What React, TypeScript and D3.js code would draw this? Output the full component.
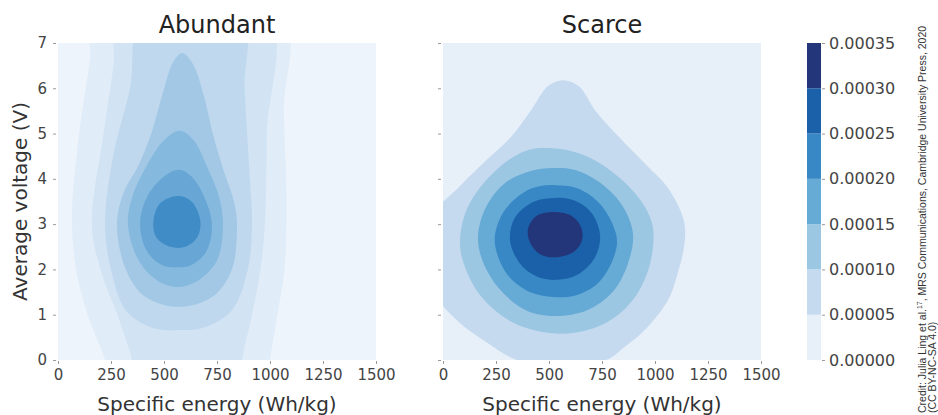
import { useRef, useEffect } from "react";
import * as d3 from "d3";

// tick values
const energyTicks = [0, 250, 500, 750, 1000, 1250, 1500];
const voltageTicks = [0, 1, 2, 3, 4, 5, 6, 7];
const densityTicks = [0, 0.00005, 0.0001, 0.00015, 0.0002, 0.00025, 0.0003, 0.00035];

const panelTitles = ["Abundant", "Scarce"];

// contour outlines, [energy Wh/kg, voltage V], outer -> inner
const abundantLevels: [number, number][][] = [
  [[175, 7.6], [1058, 7.6], [1065, 5.5], [1078, 3.5], [1068, 2], [1035, 1], [1000, 0], [990, -0.4], [240, -0.4], [222, 0], [140, 1], [85, 2], [66, 3.2], [100, 5], [150, 6.6]],
  [[292, 7.6], [990, 7.6], [985, 5], [976, 3], [955, 2], [915, 1], [868, 0], [860, -0.4], [355, -0.4], [349, 0], [280, 1], [200, 2], [160, 3], [215, 5], [262, 6.5]],
  [[401, 7.6], [868, 7.6], [880, 6], [905, 4], [915, 3], [895, 2], [820, 1.1], [690, 0.72], [566, 0.66], [440, 0.72], [320, 1.1], [250, 2], [222, 3], [260, 4.5], [340, 6]],
  [[585, 6.78], [635, 6.55], [690, 5.8], [730, 5], [780, 4.2], [830, 3.5], [844, 3], [820, 2], [730, 1.4], [566, 1.17], [410, 1.4], [320, 2], [278, 3], [310, 3.7], [380, 4.3], [440, 5], [495, 5.9], [540, 6.55]],
  [[575, 5.06], [640, 4.85], [700, 4.3], [760, 3.6], [778, 3], [750, 2.2], [660, 1.75], [566, 1.61], [470, 1.75], [380, 2.2], [330, 3], [350, 3.6], [420, 4.3], [500, 4.85]],
  [[570, 4.2], [630, 4.05], [690, 3.6], [726, 3], [700, 2.4], [630, 2.1], [566, 2.05], [490, 2.1], [420, 2.4], [387, 3], [420, 3.6], [500, 4.05]],
  [[566, 3.62], [630, 3.5], [672, 3.05], [655, 2.7], [600, 2.5], [530, 2.5], [465, 2.7], [450, 3.05], [480, 3.45]],
];

const scarceLevels: [number, number][][] = [
  [[566, 6.18], [640, 6.05], [720, 5.5], [835, 4.9], [960, 4.3], [1061, 3.8], [1135, 3.1], [1140, 2.6], [1100, 1.8], [1061, 1.32], [960, 0.7], [858, 0.29], [770, 0.0], [560, -0.12], [349, 0.0], [212, 0.37], [60, 0.9], [-40, 1.5], [-60, 2.5], [-30, 3.3], [71, 3.8], [190, 4.35], [316, 4.9], [420, 5.55], [495, 6.05]],
  [[490, 4.68], [600, 4.62], [720, 4.4], [850, 3.95], [950, 3.4], [991, 2.9], [975, 2.1], [900, 1.35], [780, 0.85], [620, 0.6], [470, 0.62], [320, 0.85], [180, 1.4], [100, 2.1], [80, 2.6], [110, 3.3], [200, 3.95], [320, 4.45], [410, 4.65]],
  [[520, 4.24], [620, 4.2], [730, 3.95], [840, 3.45], [896, 2.8], [870, 2.1], [800, 1.5], [680, 1.1], [530, 0.97], [390, 1.1], [270, 1.55], [190, 2.15], [165, 2.7], [200, 3.35], [290, 3.9], [410, 4.17]],
  [[530, 3.86], [630, 3.8], [730, 3.5], [800, 3.0], [821, 2.6], [790, 2.1], [720, 1.65], [620, 1.42], [520, 1.39], [410, 1.5], [310, 1.85], [255, 2.35], [245, 2.75], [290, 3.3], [380, 3.7], [460, 3.84]],
  [[530, 3.58], [620, 3.52], [700, 3.25], [741, 2.75], [715, 2.25], [640, 1.9], [540, 1.77], [440, 1.85], [360, 2.15], [316, 2.65], [340, 3.15], [430, 3.5]],
  [[520, 3.27], [600, 3.2], [650, 2.95], [656, 2.65], [620, 2.4], [540, 2.27], [460, 2.33], [410, 2.6], [401, 2.9], [440, 3.18]],
];

// colours
const bandColors = ["#e7f0f9", "#c6daef", "#9cc7e3", "#66aad6", "#3788c4", "#1b61aa", "#24367a"];
const abundantColors = ["#edf4fb", "#e0ecf8", "#d2e3f3", "#bfd8ee", "#a2c8e5", "#86b9de", "#67a6d5", "#3f8cc7"];

export default function App() {
  const ref = useRef<SVGSVGElement>(null);

  useEffect(() => {
    const svg = d3.select(ref.current);
    svg.selectAll("*").remove();

    const top = 43;
    const bottom = 360;
    const panels = [
      { left: 58, right: 376, levels: abundantLevels, colors: abundantColors, labels: true },
      { left: 443, right: 761, levels: scarceLevels, colors: bandColors, labels: false },
    ];

    const y = d3.scaleLinear().domain([0, 7]).range([bottom, top]);

    panels.forEach((p, i) => {
      const x = d3.scaleLinear().domain([0, 1500]).range([p.left, p.right]);
      const g = svg.append("g");

      g.append("clipPath")
        .attr("id", "clip" + i)
        .append("rect")
        .attr("x", p.left)
        .attr("y", top)
        .attr("width", p.right - p.left)
        .attr("height", bottom - top);

      const area = g.append("g").attr("clip-path", `url(#clip${i})`);
      area.append("rect")
        .attr("x", p.left)
        .attr("y", top)
        .attr("width", p.right - p.left)
        .attr("height", bottom - top)
        .attr("fill", p.colors[0]);

      const line = d3.line<[number, number]>()
        .x((d) => x(d[0]))
        .y((d) => y(d[1]))
        .curve(d3.curveCatmullRomClosed.alpha(0.5));

      area.selectAll("path.lev")
        .data(p.levels)
        .join("path")
        .attr("class", "lev")
        .attr("d", (d) => line(d))
        .attr("fill", (_, j) => p.colors[j + 1]);

      // x axis
      const xa = g.append("g")
        .attr("transform", `translate(0, ${bottom + 1})`)
        .call(d3.axisBottom(x).tickValues(energyTicks).tickSize(3).tickPadding(5).tickFormat(d3.format("d")));
      xa.select(".domain").remove();
      xa.selectAll("line").attr("stroke", "#999");
      xa.selectAll("text")
        .attr("font-family", "DejaVu Sans")
        .attr("font-size", 15)
        .attr("fill", "#444");

      // y axis
      const ya = g.append("g")
        .attr("transform", `translate(${p.left - 2}, 0)`)
        .call(d3.axisLeft(y).tickValues(voltageTicks).tickSize(3).tickPadding(6).tickFormat(p.labels ? d3.format("d") : () => ""));
      ya.select(".domain").remove();
      ya.selectAll("line").attr("stroke", "#999");
      ya.selectAll("text")
        .attr("font-family", "DejaVu Sans")
        .attr("font-size", 15)
        .attr("fill", "#444");

      g.append("text")
        .attr("x", (p.left + p.right) / 2)
        .attr("y", 33)
        .attr("text-anchor", "middle")
        .attr("font-family", "DejaVu Sans")
        .attr("font-size", 24)
        .attr("fill", "#222")
        .text(panelTitles[i]);

      g.append("text")
        .attr("x", (p.left + p.right) / 2)
        .attr("y", 411)
        .attr("text-anchor", "middle")
        .attr("font-family", "DejaVu Sans")
        .attr("font-size", 20)
        .attr("fill", "#333")
        .text("Specific energy (Wh/kg)");
    });

    svg.append("text")
      .attr("transform", `translate(27, ${(top + bottom) / 2}) rotate(-90)`)
      .attr("text-anchor", "middle")
      .attr("font-family", "DejaVu Sans")
      .attr("font-size", 20)
      .attr("fill", "#333")
      .text("Average voltage (V)");

    // colorbar
    const cb = d3.scaleLinear().domain([0, 0.00035]).range([bottom, top]);
    const bands = d3.pairs(densityTicks);
    svg.append("g")
      .selectAll("rect")
      .data(bands)
      .join("rect")
      .attr("x", 807)
      .attr("width", 14)
      .attr("y", (d) => cb(d[1]))
      .attr("height", (d) => cb(d[0]) - cb(d[1]))
      .attr("fill", (_, j) => bandColors[j]);

    const ca = svg.append("g")
      .attr("transform", "translate(822, 0)")
      .call(d3.axisRight(cb).tickValues(densityTicks).tickSize(3).tickPadding(4).tickFormat(d3.format(".5f")));
    ca.select(".domain").remove();
    ca.selectAll("line").attr("stroke", "#999");
    ca.selectAll("text")
      .attr("font-family", "DejaVu Sans")
      .attr("font-size", 16)
      .attr("fill", "#444");

    // credit
    const credit = svg.append("text")
      .attr("transform", "translate(926, 413) rotate(-90)")
      .attr("font-family", "Liberation Sans, Arial, sans-serif")
      .attr("font-size", 10.5)
      .attr("fill", "#333");
    credit.append("tspan").text("Credit: Julia Ling et al.");
    credit.append("tspan").attr("font-size", 7).attr("dy", -4).text("17");
    credit.append("tspan").attr("dy", 4).text(", MRS Communications, Cambridge University Press, 2020");
    svg.append("text")
      .attr("transform", "translate(936, 413) rotate(-90)")
      .attr("font-family", "Liberation Sans, Arial, sans-serif")
      .attr("font-size", 10.5)
      .attr("fill", "#333")
      .text("(CC BY-NC-SA 4.0)");
  }, []);

  return (
    <svg
      ref={ref}
      width={938}
      height={415}
      style={{ position: "absolute", left: 0, top: 0, background: "#fff" }}
    />
  );
}
